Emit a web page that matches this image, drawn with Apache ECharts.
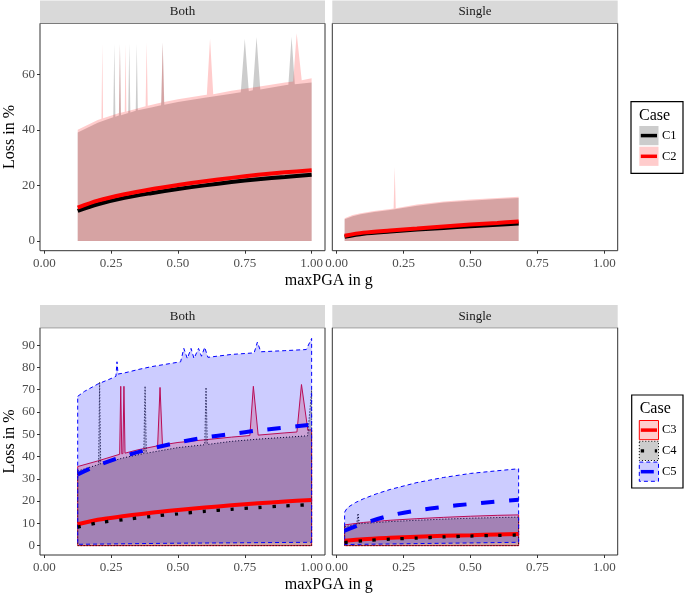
<!DOCTYPE html>
<html>
<head>
<meta charset="utf-8">
<script src="https://cdn.jsdelivr.net/npm/echarts@6/dist/echarts.min.js"></script>
<style>
html,body{margin:0;padding:0;background:#fff;}
#chart{width:685px;height:595px;}
</style>
</head>
<body>
<div id="chart"></div>
<script>
// ---------------- data ----------------
const panelNames = ['Both', 'Single'];
const casesTop = ['C1', 'C2'];
const casesBottom = ['C3', 'C4', 'C5'];
const xTicks = [0, 0.25, 0.5, 0.75, 1.0];
const yTicksTop = [0, 20, 40, 60];
const yTicksBottom = [0, 10, 20, 30, 40, 50, 60, 70, 80, 90];

// mean curves
const meanXBoth = [0.125, 0.2, 0.3, 0.4, 0.5, 0.6, 0.7, 0.8, 0.9, 1.0];
const meanXSingle = [0.03, 0.1, 0.2, 0.3, 0.4, 0.5, 0.6, 0.68];
const c1MeanBoth = [10.8, 13.2, 15.5, 17.2, 18.7, 20.0, 21.2, 22.2, 23.0, 23.8];
const c2MeanBoth = [12.0, 14.5, 16.8, 18.6, 20.1, 21.5, 22.7, 23.8, 24.7, 25.4];
const c1MeanSingle = [1.5, 2.6, 3.4, 4.1, 4.7, 5.3, 5.8, 6.3];
const c2MeanSingle = [1.9, 3.0, 3.8, 4.5, 5.2, 5.9, 6.5, 7.0];
const c3MeanBoth = [9.6, 11.6, 13.3, 14.8, 16.0, 17.1, 18.1, 19.0, 19.8, 20.5];
const c4MeanBoth = [8.3, 10.2, 11.7, 13.1, 14.3, 15.4, 16.3, 17.1, 17.8, 18.4];
const c5MeanBoth = [32.0, 36.0, 40.2, 43.5, 46.3, 48.5, 50.1, 51.7, 53.0, 54.3];
const c3MeanSingle = [2.2, 2.9, 3.5, 4.0, 4.4, 4.7, 5.0, 5.2];
const c4MeanSingle = [1.4, 2.2, 2.9, 3.4, 3.9, 4.3, 4.6, 4.8];
const c5MeanSingle = [6.7, 9.9, 13.5, 15.8, 17.4, 18.7, 19.8, 20.6];

// ribbon upper bounds [x, y]
const c1UpperBoth = [[0.125,39],[0.2,42.5],[0.258,44.5],[0.262,71],[0.266,44.7],[0.279,45.1],[0.283,71],[0.287,45.2],[0.314,46],[0.318,71],[0.322,46.2],[0.342,46.8],[0.346,71],[0.350,47],[0.4,48],[0.437,48.8],[0.443,71.5],[0.449,49],[0.5,50],[0.6,51.5],[0.7,53],[0.735,53.5],[0.75,72.7],[0.765,53.9],[0.78,54.2],[0.794,73.4],[0.808,54.5],[0.9,56],[0.913,56.2],[0.925,73.5],[0.937,56.4],[1.0,57]];
const c2UpperBoth = [[0.125,40],[0.2,43.5],[0.214,44],[0.217,71],[0.220,44.1],[0.28,46],[0.283,70.8],[0.286,46.1],[0.301,46.5],[0.304,71],[0.307,46.6],[0.379,48.5],[0.383,71.5],[0.387,48.6],[0.438,49.8],[0.443,71.5],[0.448,50],[0.5,51],[0.6,52.5],[0.608,52.6],[0.620,72.7],[0.632,52.8],[0.7,54],[0.8,55.5],[0.9,57],[0.931,57.4],[0.944,74.7],[0.963,57.8],[1.0,58.5]];
const c1UpperSingle = [[0.03,7.8],[0.06,8.9],[0.09,9.6],[0.14,10.4],[0.2,11.1],[0.3,12.7],[0.4,13.8],[0.5,14.5],[0.6,15.1],[0.68,15.5]];
const c2UpperSingle = [[0.03,8.2],[0.06,9.3],[0.09,10],[0.14,10.8],[0.2,11.5],[0.213,11.7],[0.217,26.7],[0.221,11.8],[0.3,13.1],[0.4,14.2],[0.5,14.9],[0.6,15.5],[0.68,15.9]];
const c3UpperBoth = [[0.125,35.5],[0.2,38],[0.282,41],[0.286,71.5],[0.29,41.2],[0.294,41.3],[0.298,71.5],[0.302,41.5],[0.35,43],[0.424,44.8],[0.433,71],[0.442,45.2],[0.5,46.3],[0.6,47.5],[0.7,48.7],[0.769,49.4],[0.782,71.5],[0.80,49.6],[0.9,50.6],[0.945,51],[0.962,72.3],[0.986,51.8],[1.0,52]];
const c4UpperBoth = [[0.125,33.5],[0.2,36.3],[0.203,36.4],[0.207,73.5],[0.211,36.6],[0.3,39.5],[0.372,41.3],[0.377,71.6],[0.382,41.5],[0.5,44],[0.6,45.3],[0.605,71],[0.61,45.4],[0.7,46.8],[0.8,47.8],[0.9,48.6],[0.985,49.3],[1.0,69.8]];
const c5UpperBoth = [[0.125,67],[0.15,69.2],[0.2,72.5],[0.25,75],[0.268,76],[0.272,82.5],[0.276,77],[0.3,77.5],[0.35,79],[0.4,80.3],[0.45,81.3],[0.51,82.5],[0.522,88.5],[0.535,84],[0.549,88.5],[0.56,84],[0.577,88.5],[0.588,85],[0.6,89],[0.612,84.5],[0.7,85.8],[0.785,86.5],[0.797,91.3],[0.81,87],[0.9,87.5],[0.98,88],[1.0,93]];
const c3UpperSingle = [[0.03,9.3],[0.1,10.4],[0.2,11.4],[0.3,12.1],[0.4,12.7],[0.5,13.2],[0.6,13.6],[0.68,13.8]];
const c4UpperSingle = [[0.03,8.5],[0.075,9.6],[0.08,14.5],[0.085,9.8],[0.2,10.8],[0.3,11.4],[0.4,11.9],[0.5,12.3],[0.6,12.6],[0.68,12.8]];
const c5UpperSingle = [[0.03,15],[0.04,17],[0.07,19.3],[0.1,21],[0.15,23.3],[0.2,25.2],[0.3,28.3],[0.4,30.6],[0.5,32.4],[0.6,33.6],[0.68,34.5]];
// ribbon lower bounds [x, y]
const lowerZeroBoth = [[0.125,0],[1.0,0]];
const lowerZeroSingle = [[0.03,0],[0.68,0]];
const c5LowerBoth = [[0.125,0.6],[0.5,1.1],[1.0,1.5]];
const c5LowerSingle = [[0.03,0.5],[0.68,1.5]];

// ---------------- styling ----------------
const FONT = '"Liberation Serif","DejaVu Serif",serif';
const zip = (xs, ys) => xs.map((x, i) => [x, ys[i]]);

const gridDefs = [
  {left: 40, top: 23.3, width: 285, height: 227.4},
  {left: 332.3, top: 23.3, width: 285.4, height: 227.4},
  {left: 40, top: 327.7, width: 285, height: 227.3},
  {left: 332.3, top: 327.7, width: 285.4, height: 227.3}
];

function band(gi, upper, lower, fill, stroke, dash) {
  return {
    type: 'custom', xAxisIndex: gi, yAxisIndex: gi, silent: true,
    data: upper, encode: {x: 0, y: 1},
    renderItem: function (params, api) {
      if (params.dataIndex !== 0) return null;
      const pts = upper.map(p => api.coord(p))
        .concat(lower.slice().reverse().map(p => api.coord(p)));
      const style = {fill: fill, stroke: stroke || 'none', lineWidth: stroke ? 1 : 0};
      if (dash) style.lineDash = dash;
      return {type: 'polygon', shape: {points: pts}, style: style};
    }
  };
}
function meanLine(gi, xs, ys, color, width, dash) {
  return {
    type: 'line', xAxisIndex: gi, yAxisIndex: gi, silent: true,
    data: zip(xs, ys), smooth: 0.3, showSymbol: false, symbol: 'none',
    lineStyle: {color: color, width: width, type: dash || 'solid', cap: 'butt'}
  };
}

const RED = 'rgba(255,0,0,0.2)', GREY = 'rgba(0,0,0,0.2)', BLUE = 'rgba(0,0,255,0.2)';
const dashThick = [13, 15], dotThick = [3.3, 10.7];

const series = [
  band(0, c1UpperBoth, lowerZeroBoth, GREY),
  band(0, c2UpperBoth, lowerZeroBoth, RED),
  meanLine(0, meanXBoth, c1MeanBoth, '#000', 4),
  meanLine(0, meanXBoth, c2MeanBoth, '#ff0000', 4),
  band(1, c1UpperSingle, lowerZeroSingle, GREY),
  band(1, c2UpperSingle, lowerZeroSingle, RED),
  meanLine(1, meanXSingle, c1MeanSingle, '#000', 4),
  meanLine(1, meanXSingle, c2MeanSingle, '#ff0000', 4),
  band(2, c3UpperBoth, lowerZeroBoth, RED, '#e8102e'),
  band(2, c4UpperBoth, lowerZeroBoth, GREY, '#000', [1, 2]),
  band(2, c5UpperBoth, c5LowerBoth, BLUE, '#0000ff', [4, 3]),
  meanLine(2, meanXBoth, c3MeanBoth, '#ff0000', 4),
  meanLine(2, meanXBoth, c4MeanBoth, '#000', 3.3, dotThick),
  meanLine(2, meanXBoth, c5MeanBoth, '#0000ff', 4, dashThick),
  band(3, c3UpperSingle, lowerZeroSingle, RED, '#e8102e'),
  band(3, c4UpperSingle, lowerZeroSingle, GREY, '#000', [1, 2]),
  band(3, c5UpperSingle, c5LowerSingle, BLUE, '#0000ff', [4, 3]),
  meanLine(3, meanXSingle, c3MeanSingle, '#ff0000', 4),
  meanLine(3, meanXSingle, c4MeanSingle, '#000', 3.3, dotThick),
  meanLine(3, meanXSingle, c5MeanSingle, '#0000ff', 4, dashThick)
];

const xAxes = gridDefs.map((g, i) => ({
  type: 'value', gridIndex: i, min: -0.016, max: 1.05, position: 'bottom',
  axisLine: {show: false, onZero: false}, splitLine: {show: false},
  axisTick: {show: true, length: 3, customValues: xTicks, lineStyle: {color: '#333', width: 1}},
  axisLabel: {customValues: xTicks, formatter: v => v.toFixed(2), color: '#4d4d4d',
              fontFamily: FONT, fontSize: 13, margin: 6}
}));
const yAxes = gridDefs.map((g, i) => {
  const top = i < 2, left = i % 2 === 0;
  const ticks = top ? yTicksTop : yTicksBottom;
  return {
    type: 'value', gridIndex: i, min: top ? -3.5 : -4.2, max: top ? 78.3 : 97.8, position: 'left',
    axisLine: {show: false, onZero: false}, splitLine: {show: false},
    axisTick: {show: left, length: 3, customValues: ticks, lineStyle: {color: '#333', width: 1}},
    axisLabel: {show: left, customValues: ticks, formatter: v => String(v), color: '#4d4d4d',
                fontFamily: FONT, fontSize: 13, margin: 5}
  };
});

// strips, titles, legends
const graphics = [];
gridDefs.forEach((g, i) => {
  const y0 = i < 2 ? 0.5 : 305;
  graphics.push({type: 'rect', shape: {x: g.left, y: y0, width: g.width, height: g.top - y0},
                 style: {fill: '#d9d9d9'}, silent: true});
  graphics.push({type: 'text', x: g.left + g.width / 2, y: (y0 + g.top) / 2,
                 style: {text: panelNames[i % 2], font: '13px ' + FONT, fill: '#1a1a1a',
                         align: 'center', verticalAlign: 'middle'}});
});
[[280.5, 137], [584.5, 441.4]].forEach(([xy, yy]) => {
  graphics.push({type: 'text', x: 328.8, y: xy,
                 style: {text: 'maxPGA in g', font: '16px ' + FONT, fill: '#000',
                         align: 'center', verticalAlign: 'middle'}});
  graphics.push({type: 'text', x: 10, y: yy, rotation: Math.PI / 2,
                 style: {text: 'Loss in %', font: '16px ' + FONT, fill: '#000',
                         align: 'center', verticalAlign: 'middle'}});
});
function legendBox(x, y, w, h, titleY, items) {
  graphics.push({type: 'rect', shape: {x: x, y: y, width: w, height: h},
                 style: {fill: '#fff', stroke: '#000', lineWidth: 1.2}});
  graphics.push({type: 'text', x: x + 8, y: titleY,
                 style: {text: 'Case', font: '16px ' + FONT, fill: '#000', verticalAlign: 'middle'}});
  items.forEach(it => {
    const kx = 639.3, ks = 19.2;
    const st = {fill: it.fill, stroke: it.stroke || 'none', lineWidth: it.stroke ? 1 : 0};
    if (it.bdash) st.lineDash = it.bdash;
    graphics.push({type: 'rect', shape: {x: kx, y: it.y, width: ks, height: ks}, style: st});
    const ls = {stroke: it.line, lineWidth: it.lw, lineCap: 'butt'};
    if (it.ldash) ls.lineDash = it.ldash;
    graphics.push({type: 'line', shape: {x1: kx + 1.5, y1: it.y + ks / 2, x2: kx + ks - 1.5, y2: it.y + ks / 2}, style: ls});
    graphics.push({type: 'text', x: 662, y: it.y + ks / 2,
                   style: {text: it.name, font: '12.5px ' + FONT, fill: '#000', verticalAlign: 'middle'}});
  });
}
legendBox(631, 101.7, 52, 71.6, 115.5, [
  {name: casesTop[0], y: 126, fill: GREY, line: '#000', lw: 3.5},
  {name: casesTop[1], y: 146.7, fill: RED, line: '#ff0000', lw: 3.5}
]);
legendBox(631.7, 395, 51.3, 93, 409, [
  {name: casesBottom[0], y: 420.5, fill: RED, stroke: '#ff0000', line: '#ff0000', lw: 3.5},
  {name: casesBottom[1], y: 441.3, fill: GREY, stroke: '#000', bdash: [1, 2], line: '#000', lw: 3.3, ldash: [3.3, 10.7]},
  {name: casesBottom[2], y: 462.1, fill: BLUE, stroke: '#0000ff', bdash: [4, 3], line: '#0000ff', lw: 3.5, ldash: [13, 15]}
]);

const chart = echarts.init(document.getElementById('chart'), null, {renderer: 'canvas'});
chart.setOption({
  animation: false,
  backgroundColor: '#fff',
  grid: gridDefs.map(g => Object.assign({show: true, borderColor: '#333', borderWidth: 1,
                                         backgroundColor: '#fff', containLabel: false}, g)),
  xAxis: xAxes,
  yAxis: yAxes,
  series: series,
  graphic: {elements: graphics}
});
</script>
</body>
</html>
